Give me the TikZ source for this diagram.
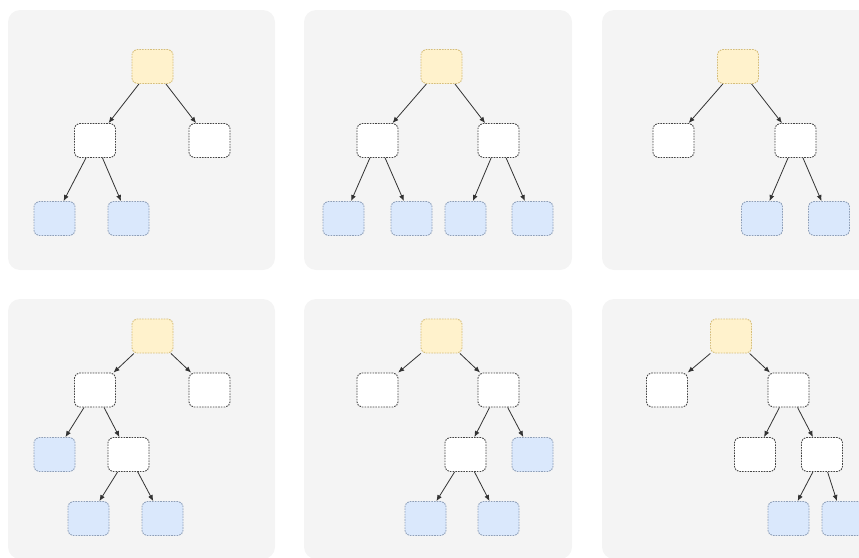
\documentclass[tikz,border=0pt]{standalone}
\usetikzlibrary{arrows.meta}
\definecolor{panelbg}{HTML}{F4F4F4}
\definecolor{yfill}{HTML}{FFF2CC}
\definecolor{ydraw}{HTML}{D6BE7A}
\definecolor{bfill}{HTML}{DAE8FC}
\definecolor{bdraw}{HTML}{8E9FB8}
\definecolor{wdraw}{HTML}{444444}
\definecolor{edgecol}{HTML}{333333}
\tikzset{
  panel/.style={fill=panelbg, draw=none, rounded corners=12pt},
  boxbase/.style={rectangle, rounded corners=5pt, minimum width=41pt, minimum height=34pt, inner sep=0pt, line width=0.9pt, dash pattern=on 1.6pt off 1.1pt},
  ybox/.style={boxbase, fill=yfill, draw=ydraw},
  bbox/.style={boxbase, fill=bfill, draw=bdraw},
  wbox/.style={boxbase, fill=white, draw=wdraw},
  edge/.style={draw=edgecol, line width=0.8pt, -{Latex[length=6pt,width=5pt]}},
}
\begin{document}
\begin{tikzpicture}[x=1pt,y=-1pt]
\useasboundingbox (0,0) rectangle (859,557);
\clip (0,0) rectangle (859,557);
% panels
\fill[panel] (8,10) rectangle (275,270);
\fill[panel] (304,10) rectangle (572,270);
\fill[panel] (602,10) rectangle (870,270);
\fill[panel] (8,299) rectangle (275,559);
\fill[panel] (304,299) rectangle (572,559);
\fill[panel] (602,299) rectangle (870,559);
% panel 1
\node[ybox] (r1) at (152.5,66.5) {};
\node[wbox] (a1) at (95,140.5) {};
\node[wbox] (b1) at (209.5,140.5) {};
\node[bbox] (c1) at (54.5,218.5) {};
\node[bbox] (d1) at (128.5,218.5) {};
\draw[edge] (r1) -- (a1);
\draw[edge] (r1) -- (b1);
\draw[edge] (a1) -- (c1);
\draw[edge] (a1) -- (d1);
% panel 2
\node[ybox] (r2) at (441.5,66.5) {};
\node[wbox] (a2) at (377.5,140.5) {};
\node[wbox] (b2) at (498.5,140.5) {};
\node[bbox] (c2) at (343.5,218.5) {};
\node[bbox] (d2) at (411.5,218.5) {};
\node[bbox] (e2) at (465.5,218.5) {};
\node[bbox] (f2) at (532.5,218.5) {};
\draw[edge] (r2) -- (a2);
\draw[edge] (r2) -- (b2);
\draw[edge] (a2) -- (c2);
\draw[edge] (a2) -- (d2);
\draw[edge] (b2) -- (e2);
\draw[edge] (b2) -- (f2);
% panel 3
\node[ybox] (r3) at (738,66.5) {};
\node[wbox] (a3) at (673.5,140.5) {};
\node[wbox] (b3) at (795.5,140.5) {};
\node[bbox] (c3) at (762,218.5) {};
\node[bbox] (d3) at (829,218.5) {};
\draw[edge] (r3) -- (a3);
\draw[edge] (r3) -- (b3);
\draw[edge] (b3) -- (c3);
\draw[edge] (b3) -- (d3);
% panel 4
\node[ybox] (r4) at (152.5,336) {};
\node[wbox] (a4) at (95,390) {};
\node[wbox] (b4) at (209.5,390) {};
\node[bbox] (c4) at (54.5,454.5) {};
\node[wbox] (d4) at (128.5,454.5) {};
\node[bbox] (e4) at (88.5,518.5) {};
\node[bbox] (f4) at (162.5,518.5) {};
\draw[edge] (r4) -- (a4);
\draw[edge] (r4) -- (b4);
\draw[edge] (a4) -- (c4);
\draw[edge] (a4) -- (d4);
\draw[edge] (d4) -- (e4);
\draw[edge] (d4) -- (f4);
% panel 5
\node[ybox] (r5) at (441.5,336) {};
\node[wbox] (a5) at (377.5,390) {};
\node[wbox] (b5) at (498.5,390) {};
\node[wbox] (c5) at (465.5,454.5) {};
\node[bbox] (d5) at (532.5,454.5) {};
\node[bbox] (e5) at (425.5,518.5) {};
\node[bbox] (f5) at (498.5,518.5) {};
\draw[edge] (r5) -- (a5);
\draw[edge] (r5) -- (b5);
\draw[edge] (b5) -- (c5);
\draw[edge] (b5) -- (d5);
\draw[edge] (c5) -- (e5);
\draw[edge] (c5) -- (f5);
% panel 6
\node[ybox] (r6) at (731,336) {};
\node[wbox] (a6) at (667,390) {};
\node[wbox] (b6) at (788.5,390) {};
\node[wbox] (c6) at (755,454.5) {};
\node[wbox] (d6) at (822,454.5) {};
\node[bbox] (e6) at (788.5,518.5) {};
\node[bbox] (f6) at (842.5,518.5) {};
\draw[edge] (r6) -- (a6);
\draw[edge] (r6) -- (b6);
\draw[edge] (b6) -- (c6);
\draw[edge] (b6) -- (d6);
\draw[edge] (d6) -- (e6);
\draw[edge] (d6) -- (f6);
\end{tikzpicture}
\end{document}
